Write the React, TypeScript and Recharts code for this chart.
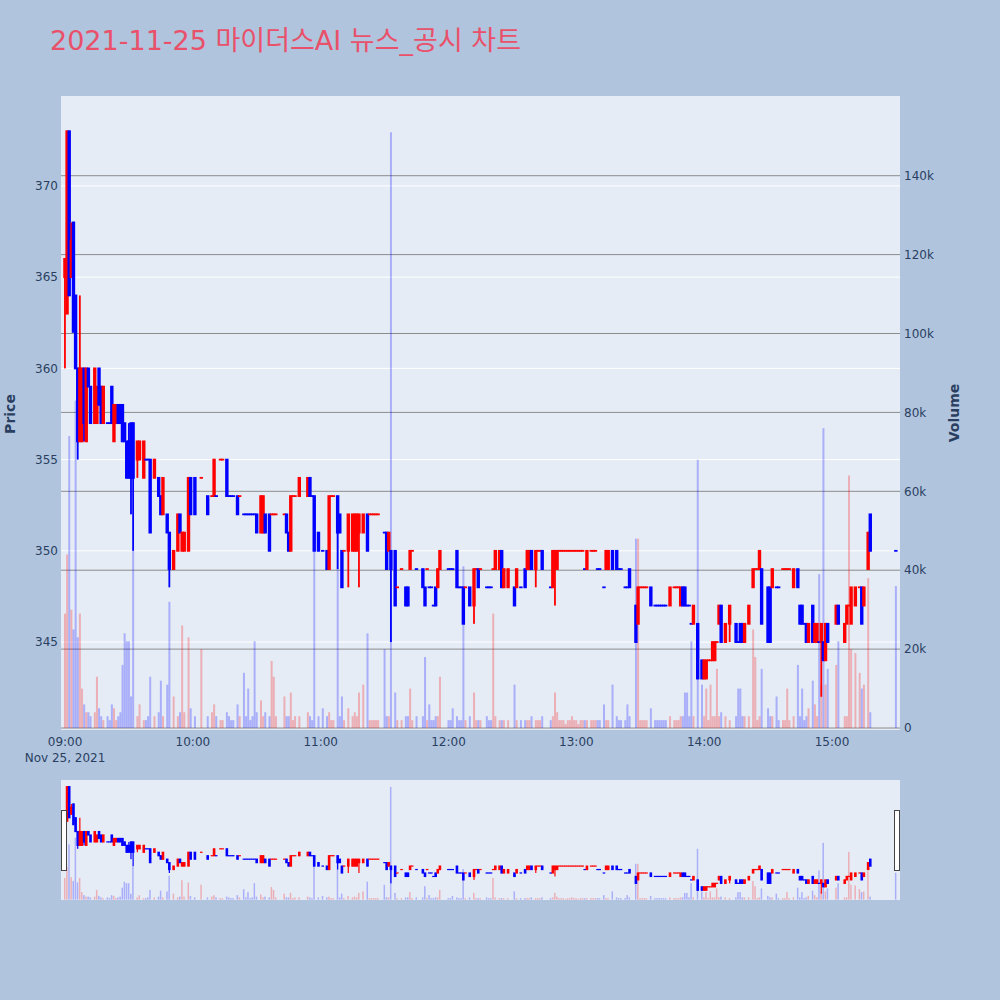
import { ComposedChart, Bar, XAxis, YAxis, CartesianGrid } from 'recharts';

const FONT = '"DejaVu Sans", Verdana, "Noto Sans CJK KR", sans-serif';
const TEXT = '#2a3f5f';
const UP = '#ff0000';
const DOWN = '#0000ff';

const title = '2021-11-25 마이더스AI 뉴스_공시 차트';

// minutes after 09:00
const minutes = [
  0, 1, 2, 3, 4, 5, 6, 7, 8, 9, 10, 11, 12, 14, 15, 16, 17, 18, 20, 21, 22, 23, 24, 25, 26, 27, 28, 29, 30, 31,
  32, 34, 35, 37, 38, 39, 40, 42, 44, 45, 46, 48, 49, 51, 53, 54, 55, 56, 58, 59, 61,
  64, 67, 69, 70, 71, 73, 74, 76, 77, 78, 79, 81, 82, 84, 85, 86, 87, 88, 89, 90, 92, 93, 94, 96, 97, 98, 99, 103, 104, 105,
  106, 107, 108, 110, 114, 115, 116, 117, 119, 121, 123, 124, 125, 126,
  128, 129, 130, 131, 133, 135, 136, 137, 138, 140, 142, 143, 144, 145, 146, 147, 150, 151, 152, 153,
  155, 156, 158, 160, 161, 162, 163, 165, 168, 169, 170, 171, 172, 173, 174, 175, 176, 180, 181, 182, 184, 185, 186, 187,
  188, 190, 192, 193, 194, 195, 198, 199, 200, 201, 202, 204, 205, 206, 208, 211, 212, 214, 216, 217,
  218, 219, 221, 222, 223, 224, 228, 229, 230, 231, 232, 233, 234, 235, 236, 237, 238, 239, 240, 241,
  242, 243, 244, 245, 247, 248, 249, 250, 251, 253, 254, 255, 257, 259, 260, 261, 263, 264, 265,
  268, 269, 270, 271, 272, 273, 275, 277, 278, 279, 280, 281, 282, 284, 286, 287, 288, 289, 290, 291,
  292, 293, 294, 295, 297, 299, 300, 301, 302, 303, 304, 305, 306, 307, 308, 310, 312, 315, 316, 317,
  318, 319, 321, 323, 324, 325, 326, 327,
  330, 331, 332, 334, 335, 337, 338, 339, 340, 342, 344, 345, 346, 347, 348, 349, 351, 352, 353, 354,
  355, 356, 357, 358, 362, 363, 366, 367, 368, 369, 371, 373, 374, 375, 377, 378, 390,
];

const opens = [
  365, 363, 373, 365, 368, 364, 360, 356, 356, 360, 356, 360, 359, 357, 357, 360, 359, 357, 357, 357, 359, 356, 357, 358, 358, 358, 357, 356, 356, 357,
  357, 355, 355, 354, 355, 355, 355, 354, 354, 353, 352, 352, 351, 349, 350, 352, 350, 350, 350, 354, 354,
  354, 353, 353, 353, 353, 355, 355, 355, 353, 353, 353, 353, 353, 352, 352, 352, 352, 352, 352, 352, 351, 351, 352, 352, 352, 352, 352, 352, 352, 351,
  350, 353, 353, 353, 353, 354, 353, 353, 351, 350, 350, 349, 353, 353,
  353, 352, 350, 350, 350, 350, 350, 350, 351, 351, 352, 352, 352, 352, 352, 352, 351, 351, 350, 350,
  350, 348, 349, 348, 348, 349, 350, 349, 349, 348, 349, 348, 348, 347, 348, 348, 349, 349, 349, 349, 350, 348, 348, 348,
  348, 348, 347, 349, 349, 349, 348, 348, 348, 349, 349, 349, 350, 348, 348, 348, 348, 348, 349, 349,
  349, 350, 349, 350, 350, 350, 348, 348, 349, 349, 350, 350, 350, 350, 350, 350, 350, 350, 350, 350,
  350, 350, 349, 349, 350, 350, 350, 349, 349, 348, 349, 349, 350, 350, 349, 349, 348, 348, 349,
  347, 346, 348, 348, 348, 348, 348, 347, 347, 347, 347, 347, 347, 347, 348, 348, 348, 347, 348, 348,
  347, 347, 346, 346, 346, 344, 343, 343, 344, 344, 344, 344, 345, 346, 347, 345, 346, 346, 345, 346,
  346, 345, 346, 348, 349, 349, 349, 349,
  348, 348, 348, 348, 348, 349, 349, 349, 349, 348, 349, 347, 347, 346, 346, 345, 347, 345, 345, 345,
  345, 345, 344, 346, 346, 347, 345, 346, 347, 346, 347, 348, 348, 347, 349, 352, 350,
];

const highs = [
  366, 373, 373, 368, 368, 364, 360, 364, 360, 360, 360, 360, 359, 360, 359, 360, 359, 359, 357, 357, 359, 358, 358, 358, 358, 358, 357, 356, 357, 357,
  357, 356, 356, 356, 355, 355, 355, 355, 354, 353, 354, 352, 351, 350, 352, 352, 351, 351, 354, 354, 354,
  354, 353, 353, 355, 353, 355, 355, 355, 353, 353, 353, 353, 353, 352, 352, 352, 352, 352, 352, 352, 353, 353, 352, 352, 352, 352, 352, 352, 352, 351,
  353, 353, 353, 354, 354, 354, 353, 353, 351, 350, 350, 353, 353, 353,
  353, 352, 350, 350, 352, 352, 352, 352, 352, 352, 352, 352, 352, 352, 352, 352, 351, 351, 351, 350,
  350, 348, 349, 348, 348, 350, 350, 349, 349, 348, 349, 348, 348, 347, 348, 349, 350, 349, 349, 349, 350, 348, 348, 348,
  348, 348, 349, 349, 349, 349, 348, 348, 348, 349, 350, 350, 350, 349, 349, 348, 349, 348, 349, 350,
  350, 350, 350, 350, 350, 350, 348, 350, 350, 350, 350, 350, 350, 350, 350, 350, 350, 350, 350, 350,
  350, 350, 349, 350, 350, 350, 350, 349, 349, 348, 350, 350, 350, 350, 349, 349, 348, 348, 349,
  347, 348, 348, 348, 348, 348, 348, 347, 347, 347, 347, 347, 347, 348, 348, 348, 348, 348, 348, 348,
  347, 347, 346, 347, 346, 344, 344, 344, 344, 344, 345, 345, 345, 347, 347, 346, 347, 346, 345, 346,
  346, 346, 347, 349, 349, 349, 350, 349,
  348, 348, 349, 348, 348, 349, 349, 349, 349, 349, 349, 347, 347, 346, 346, 346, 347, 346, 346, 345,
  346, 345, 346, 346, 347, 347, 346, 347, 347, 348, 348, 348, 348, 348, 351, 352, 350,
];

const lows = [
  360, 363, 364, 365, 362, 360, 355, 356, 356, 356, 356, 359, 357, 357, 357, 358, 357, 357, 357, 357, 357, 356, 357, 357, 357, 356, 356, 354, 354, 352,
  350, 354, 355, 354, 355, 355, 351, 354, 353, 352, 352, 351, 348, 349, 350, 351, 350, 350, 350, 352, 352,
  354, 352, 353, 353, 353, 355, 355, 353, 353, 353, 353, 352, 353, 352, 352, 352, 352, 352, 352, 351, 351, 351, 351, 350, 352, 352, 352, 352, 351, 350,
  350, 353, 353, 353, 353, 353, 353, 350, 350, 350, 349, 349, 353, 353,
  349, 351, 348, 350, 348, 350, 350, 350, 348, 351, 350, 352, 352, 352, 352, 352, 351, 349, 350, 345,
  347, 348, 349, 347, 347, 349, 350, 349, 348, 347, 349, 348, 348, 347, 347, 348, 349, 349, 349, 349, 348, 348, 348, 346,
  348, 347, 346, 349, 348, 349, 348, 348, 348, 349, 349, 349, 348, 348, 348, 347, 348, 348, 348, 349,
  349, 349, 348, 350, 350, 349, 348, 348, 347, 349, 350, 350, 350, 350, 350, 350, 350, 350, 350, 350,
  350, 350, 349, 349, 350, 350, 350, 349, 349, 348, 349, 349, 349, 349, 349, 349, 348, 348, 348,
  345, 346, 348, 348, 348, 348, 347, 347, 347, 347, 347, 347, 347, 347, 348, 348, 348, 347, 347, 347,
  347, 347, 346, 346, 343, 343, 343, 343, 344, 344, 344, 344, 345, 346, 345, 345, 345, 345, 345, 345,
  345, 345, 346, 348, 349, 349, 349, 346,
  345, 345, 348, 348, 348, 349, 349, 349, 349, 348, 348, 346, 346, 346, 345, 345, 345, 345, 345, 345,
  342, 344, 344, 345, 346, 346, 345, 346, 347, 346, 347, 348, 346, 347, 349, 350, 350,
];

const closes = [
  366, 373, 364, 367, 362, 360, 356, 360, 360, 357, 360, 359, 357, 360, 359, 358, 357, 359, 357, 357, 357, 358, 358, 357, 357, 356, 356, 354, 354, 354,
  354, 356, 356, 356, 355, 355, 351, 355, 353, 352, 354, 351, 349, 350, 352, 351, 351, 351, 354, 352, 352,
  354, 352, 353, 355, 353, 355, 355, 353, 353, 353, 353, 352, 353, 352, 352, 352, 352, 352, 352, 351, 353, 353, 351, 350, 352, 352, 352, 352, 351, 350,
  353, 353, 353, 354, 354, 353, 353, 350, 350, 350, 349, 353, 353, 353,
  351, 351, 348, 350, 352, 352, 352, 352, 352, 352, 350, 352, 352, 352, 352, 352, 351, 349, 351, 349,
  347, 348, 349, 347, 347, 350, 350, 349, 348, 347, 349, 348, 348, 347, 347, 349, 350, 349, 349, 349, 348, 348, 348, 346,
  348, 347, 349, 349, 348, 349, 348, 348, 348, 349, 350, 350, 348, 349, 349, 347, 349, 348, 348, 350,
  350, 349, 350, 350, 350, 349, 348, 350, 350, 350, 350, 350, 350, 350, 350, 350, 350, 350, 350, 350,
  350, 350, 349, 350, 350, 350, 350, 349, 349, 348, 350, 350, 349, 349, 349, 349, 348, 348, 348,
  345, 348, 348, 348, 348, 348, 347, 347, 347, 347, 347, 347, 347, 348, 348, 348, 348, 348, 347, 347,
  347, 347, 346, 347, 343, 343, 344, 344, 344, 344, 345, 345, 345, 347, 345, 346, 347, 345, 345, 345,
  345, 346, 347, 349, 349, 349, 350, 346,
  345, 345, 349, 348, 348, 349, 349, 349, 349, 349, 348, 346, 346, 346, 345, 346, 345, 346, 346, 345,
  346, 344, 346, 345, 347, 346, 346, 347, 347, 348, 348, 348, 346, 348, 351, 350, 350,
];

// volume in thousands of shares
const volumes = [
  29, 44, 74, 30, 25, 83, 23, 29, 10, 6, 4, 4, 3, 4, 13, 5, 3, 2, 3, 2, 6, 5, 2, 3, 4, 16, 24, 22, 22, 8,
  45, 3, 6, 2, 2, 3, 13, 3, 4, 12, 3, 11, 32, 8, 3, 4, 26, 4, 23, 5, 3,
  20, 3, 4, 6, 3, 2, 2, 4, 3, 2, 2, 6, 3, 14, 3, 10, 2, 3, 22, 4, 7, 3, 4, 3, 17, 13, 3, 8, 3, 3,
  9, 2, 3, 3, 4, 3, 2, 45, 3, 5, 3, 4, 2, 2,
  55, 3, 8, 2, 5, 3, 4, 3, 9, 11, 24, 2, 2, 2, 2, 2, 20, 3, 3, 151,
  9, 2, 2, 3, 3, 10, 2, 3, 3, 18, 2, 6, 2, 2, 3, 3, 13, 2, 2, 5, 3, 2, 2, 41,
  2, 3, 9, 2, 2, 2, 3, 2, 2, 29, 3, 2, 2, 2, 2, 11, 2, 2, 2, 2,
  2, 3, 2, 2, 2, 3, 2, 3, 9, 4, 2, 2, 2, 1, 2, 2, 3, 2, 2, 1,
  2, 2, 2, 2, 2, 2, 2, 2, 2, 6, 2, 2, 11, 3, 2, 2, 2, 6, 3,
  48, 48, 2, 2, 2, 2, 5, 2, 2, 2, 2, 2, 2, 3, 2, 2, 2, 3, 3, 9,
  9, 3, 22, 3, 68, 11, 3, 10, 2, 11, 3, 3, 15, 3, 4, 3, 2, 3, 10, 10,
  3, 3, 3, 25, 18, 2, 3, 15,
  5, 3, 3, 8, 2, 2, 2, 10, 2, 3, 16, 3, 10, 2, 3, 5, 12, 6, 3, 39,
  11, 76, 11, 15, 16, 22, 3, 3, 64, 20, 19, 14, 10, 11, 38, 4, 36,
];

const timeTicks = [0, 60, 120, 180, 240, 300, 360];
const timeLabels = ['09:00', '10:00', '11:00', '12:00', '13:00', '14:00', '15:00'];
const dateLabel = 'Nov 25, 2021';
const priceTicks = [345, 350, 355, 360, 365, 370];
const volumeTicks = [0, 20, 40, 60, 80, 100, 120, 140];

const timeDomain = [-1.9, 391.9];
const priceDomain = [340.18, 374.93];
const volumeDomain = [-0.5, 160.2];

// plotly-style direction: flat candles take the direction from the previous close
let lastUp = true;
const rows = minutes.map((t, i) => {
  const o = opens[i];
  const c = closes[i];
  let up;
  if (c > o) up = true;
  else if (c < o) up = false;
  else if (i > 0 && c > closes[i - 1]) up = true;
  else if (i > 0 && c < closes[i - 1]) up = false;
  else up = lastUp;
  lastUp = up;
  return { t, o, h: highs[i], l: lows[i], c, v: volumes[i], range: [lows[i], highs[i]], up };
});

function candleShape(bodyW: number, wickW: number, pad: number) {
  return (props: any) => {
    const { x, y, width, height, payload } = props;
    if (x == null || y == null) return null;
    const color = payload.up ? UP : DOWN;
    const top0 = Math.min(y, y + height);
    const h = Math.abs(height);
    const cx = x + width / 2;
    const span = payload.h - payload.l;
    const k = span > 0 ? h / span : 0;
    const bTop = top0 + (payload.h - Math.max(payload.o, payload.c)) * k;
    const bBot = top0 + (payload.h - Math.min(payload.o, payload.c)) * k;
    return (
      <g>
        <rect x={cx - wickW / 2} y={top0} width={wickW} height={h} fill={color} />
        <rect x={cx - bodyW / 2} y={bTop - pad} width={bodyW} height={bBot - bTop + pad * 2} fill={color} />
      </g>
    );
  };
}

function volumeShape(props: any) {
  const { x, y, width, height, payload } = props;
  if (x == null || y == null) return null;
  const top0 = Math.min(y, y + height);
  return (
    <rect
      x={x}
      y={top0}
      width={width}
      height={Math.abs(height)}
      fill={payload.up ? 'rgba(255,0,0,0.26)' : 'rgba(0,0,255,0.26)'}
    />
  );
}

function TimeTick(props: any) {
  const { x, y, payload } = props;
  const idx = timeTicks.indexOf(payload.value);
  return (
    <g>
      <text x={x} y={y + 16} textAnchor="middle" fill={TEXT} fontSize={12} fontFamily={FONT}>
        {timeLabels[idx]}
      </text>
      {idx === 0 && (
        <text x={x} y={y + 32} textAnchor="middle" fill={TEXT} fontSize={12} fontFamily={FONT}>
          {dateLabel}
        </text>
      )}
    </g>
  );
}

const tickStyle = { fill: TEXT, fontSize: 12, fontFamily: FONT };

const handleStyle = {
  position: 'absolute' as const,
  top: 810,
  width: 4,
  height: 59,
  background: '#ffffff',
  border: '1px solid #444444',
};

export default function App() {
  return (
    <div
      style={{
        position: 'absolute',
        left: 0,
        top: 0,
        width: 1000,
        height: 1000,
        background: '#b0c4de',
        fontFamily: FONT,
        overflow: 'hidden',
      }}
    >
      <div
        style={{
          position: 'absolute',
          left: 50,
          top: 21,
          fontSize: 27,
          lineHeight: '40px',
          color: '#e9506a',
          whiteSpace: 'nowrap',
        }}
      >
        {title}
      </div>

      <div style={{ position: 'absolute', left: 0, top: 0 }}>
        <ComposedChart width={1000} height={770} data={rows} margin={{ top: 96, right: 0, bottom: 0, left: 0 }}>
          <CartesianGrid xAxisId="main" yAxisId="p" vertical={false} syncWithTicks stroke="#ffffff" strokeWidth={1} fill="#e5ecf6" fillOpacity={1} />
          <CartesianGrid xAxisId="main" yAxisId="vol" vertical={false} syncWithTicks stroke="#8c8c8c" strokeWidth={1} />
          <XAxis
            xAxisId="main"
            dataKey="t"
            type="number"
            domain={timeDomain}
            allowDataOverflow
            ticks={timeTicks}
            interval={0}
            tick={<TimeTick />}
            tickLine={false}
            axisLine={false}
            tickSize={0}
            tickMargin={0}
            height={40}
          />
          <XAxis xAxisId="vol" dataKey="t" type="number" domain={timeDomain} allowDataOverflow hide />
          <YAxis
            yAxisId="p"
            orientation="left"
            width={61}
            type="number"
            domain={priceDomain}
            allowDataOverflow
            ticks={priceTicks}
            interval={0}
            tick={tickStyle}
            tickLine={false}
            axisLine={false}
            tickSize={0}
            tickMargin={3}
          />
          <YAxis
            yAxisId="vol"
            orientation="right"
            width={100}
            type="number"
            domain={volumeDomain}
            allowDataOverflow
            ticks={volumeTicks}
            interval={0}
            tick={tickStyle}
            tickFormatter={(v: number) => (v === 0 ? '0' : `${v}k`)}
            tickLine={false}
            axisLine={false}
            tickSize={0}
            tickMargin={4}
          />
          <Bar xAxisId="vol" yAxisId="vol" dataKey="v" barSize={2} shape={volumeShape} isAnimationActive={false} />
          <Bar xAxisId="main" yAxisId="p" dataKey="range" barSize={4} shape={candleShape(3.4, 1.8, 0.9)} isAnimationActive={false} />
        </ComposedChart>
      </div>

      <div
        style={{
          position: 'absolute',
          left: 10,
          top: 414,
          transform: 'translate(-50%, -50%) rotate(-90deg)',
          fontSize: 14,
          fontWeight: 700,
          color: TEXT,
          whiteSpace: 'nowrap',
        }}
      >
        Price
      </div>
      <div
        style={{
          position: 'absolute',
          left: 954,
          top: 413,
          transform: 'translate(-50%, -50%) rotate(-90deg)',
          fontSize: 14,
          fontWeight: 700,
          color: TEXT,
          whiteSpace: 'nowrap',
        }}
      >
        Volume
      </div>

      <div style={{ position: 'absolute', left: 0, top: 780 }}>
        <ComposedChart width={1000} height={120} data={rows} margin={{ top: 0, right: 100, bottom: 0, left: 61 }}>
          <CartesianGrid xAxisId="main" yAxisId="p" horizontal={false} vertical={false} stroke="none" fill="#e5ecf6" fillOpacity={1} />
          <XAxis xAxisId="main" dataKey="t" type="number" domain={timeDomain} allowDataOverflow hide />
          <XAxis xAxisId="vol" dataKey="t" type="number" domain={timeDomain} allowDataOverflow hide />
          <YAxis yAxisId="p" type="number" domain={priceDomain} allowDataOverflow hide />
          <YAxis yAxisId="vol" type="number" domain={volumeDomain} allowDataOverflow hide />
          <Bar xAxisId="vol" yAxisId="vol" dataKey="v" barSize={1.5} shape={volumeShape} isAnimationActive={false} />
          <Bar xAxisId="main" yAxisId="p" dataKey="range" barSize={3} shape={candleShape(2.6, 1.2, 0.6)} isAnimationActive={false} />
        </ComposedChart>
      </div>
      <div style={{ ...handleStyle, left: 61 }} />
      <div style={{ ...handleStyle, left: 894 }} />
    </div>
  );
}
